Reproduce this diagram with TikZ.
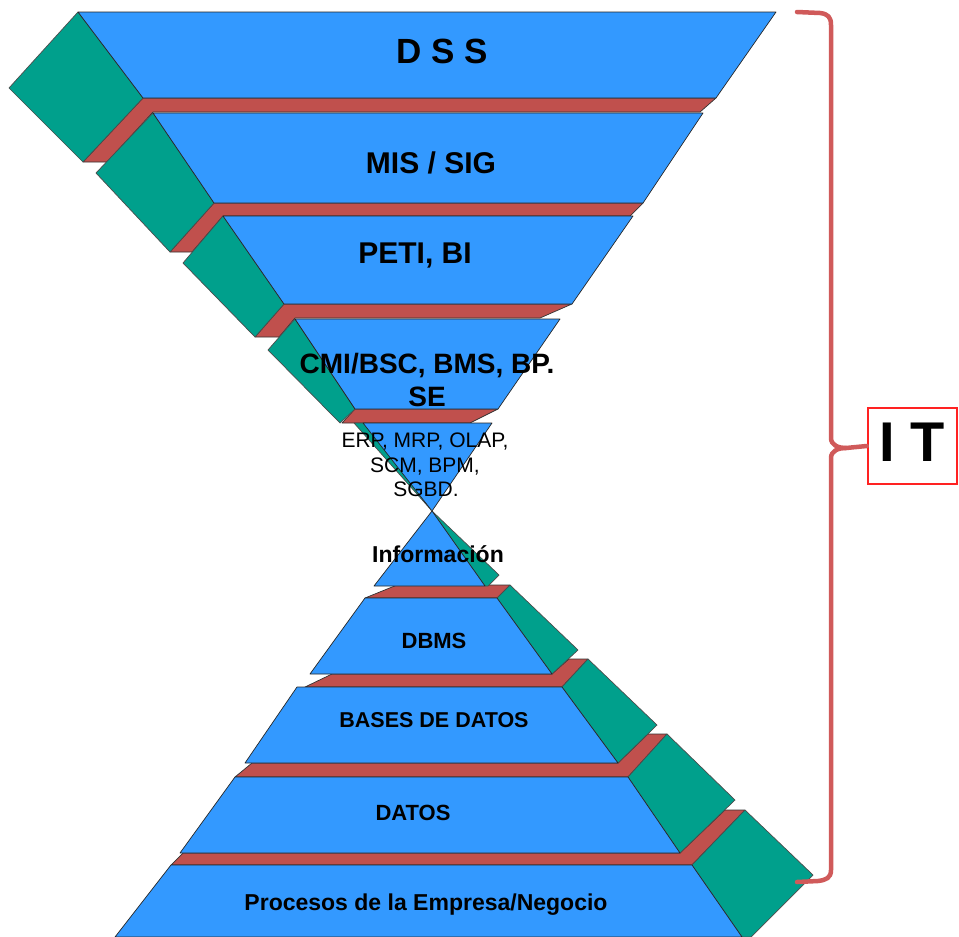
\documentclass[tikz,border=0pt]{standalone}
\usepackage{fontspec}
\setmainfont{Liberation Sans}
\definecolor{lyblue}{RGB}{51,153,255}
\definecolor{lygreen}{RGB}{0,160,140}
\definecolor{lyred}{RGB}{192,80,77}
\definecolor{brk}{RGB}{208,90,90}
\definecolor{itred}{RGB}{255,34,34}
\begin{document}
\begin{tikzpicture}[x=1pt,y=-1pt,
  layer/.style={fill=lyblue, draw=black!85, line width=0.7pt, line join=round},
  side/.style={fill=lygreen, draw=black!70, line width=0.7pt, line join=round},
  band/.style={fill=lyred, draw=black!80, line width=0.7pt, line join=round},
  lbl/.style={inner sep=0pt, anchor=base, text=black},
  brace/.style={draw=brk, line width=4.5pt, line cap=round, line join=round},
  itbox/.style={draw=itred, line width=2.5pt, minimum width=89pt, minimum height=76pt, inner sep=0pt, text depth=8pt, font=\fontsize{56}{60}\selectfont\bfseries}
]
\useasboundingbox (0,0) rectangle (959,937);

% ---------- upper (inverted) funnel ----------
% red bands
\path[band] (83,162) -- (143,98) -- (716,98) -- (700,112) -- (153,112) -- (107,162) -- cycle;
\path[band] (170,252) -- (214,203) -- (643,203) -- (630,216) -- (223,216) -- (192,252) -- cycle;
\path[band] (255,337) -- (284,304) -- (572,304) -- (540,318) -- (295,318) -- (279,337) -- cycle;
\path[band] (355,409) -- (498,409) -- (470,423) -- (342,423) -- cycle;
% green sides
\path[side] (78,12) -- (143,98) -- (83,162) -- (9,88) -- cycle;
\path[side] (153,113) -- (214,203) -- (170,252) -- (96,173) -- cycle;
\path[side] (223,216) -- (284,304) -- (255,337) -- (183,263) -- cycle;
\path[side] (295,319) -- (355,409) -- (340,423) -- (268,350) -- cycle;
\path[side] (354,423) -- (366,423) -- (432,511) -- cycle;
% blue layers
\path[layer] (78,12) -- (776,12) -- (716,98) -- (143,98) -- cycle;
\path[layer] (153,113) -- (703,113) -- (643,203) -- (214,203) -- cycle;
\path[layer] (223,216) -- (633,216) -- (572,304) -- (284,304) -- cycle;
\path[layer] (295,319) -- (560,319) -- (498,409) -- (355,409) -- cycle;
\path[layer] (363,423) -- (492,423) -- (432,511) -- cycle;

% ---------- lower pyramid ----------
% red bands
\path[band] (365,598) -- (397,585) -- (510,585) -- (497,598) -- cycle;
\path[band] (305,687) -- (332,674) -- (552,674) -- (569,659) -- (588,659) -- (562,687) -- cycle;
\path[band] (235,777) -- (252,763) -- (618,763) -- (648,734) -- (667,734) -- (628,777) -- cycle;
\path[band] (171,865) -- (183,853) -- (680,853) -- (725,810) -- (745,810) -- (692,865) -- cycle;
% green sides
\path[side] (431,510) -- (499,575) -- (488,586) -- (485,586) -- cycle;
\path[side] (497,598) -- (510,585) -- (578,650) -- (552,674) -- cycle;
\path[side] (562,687) -- (588,659) -- (657,725) -- (618,763) -- cycle;
\path[side] (628,777) -- (667,734) -- (735,800) -- (680,853) -- cycle;
\path[side] (692,865) -- (745,810) -- (813,875) -- (751,937) -- (742,937) -- cycle;
% blue layers
\path[layer] (432,511) -- (485,586) -- (374,586) -- cycle;
\path[layer] (365,598) -- (497,598) -- (552,674) -- (310,674) -- cycle;
\path[layer] (297,687) -- (562,687) -- (618,763) -- (245,763) -- cycle;
\path[layer] (235,777) -- (628,777) -- (680,853) -- (180,853) -- cycle;
\path[layer] (171,865) -- (692,865) -- (742,937) -- (115,937) -- cycle;

% ---------- labels ----------
\node[lbl, font=\fontsize{35}{40}\selectfont\bfseries] (dss) at (442,63) {D S S};
\node[lbl, font=\fontsize{30}{34}\selectfont\bfseries] (mis) at (431,173) {MIS / SIG};
\node[lbl, font=\fontsize{30}{34}\selectfont\bfseries] (peti) at (415,263) {PETI, BI};
\node[lbl, font=\fontsize{28}{32}\selectfont\bfseries] (cmia) at (427,373) {CMI/BSC, BMS, BP.};
\node[lbl, font=\fontsize{28}{32}\selectfont\bfseries] (cmib) at (427,406) {SE};
\node[lbl, font=\fontsize{21}{24}\selectfont] (erpa) at (425,447) {ERP, MRP, OLAP,};
\node[lbl, font=\fontsize{21}{24}\selectfont] (erpb) at (425,472) {SCM, BPM,};
\node[lbl, font=\fontsize{21}{24}\selectfont] (erpc) at (426,496) {SGBD.};
\node[lbl, font=\fontsize{23}{26}\selectfont\bfseries] (info) at (438,562) {Información};
\node[lbl, font=\fontsize{22}{26}\selectfont\bfseries] (dbms) at (434,648) {DBMS};
\node[lbl, font=\fontsize{21.5}{25}\selectfont\bfseries] (bases) at (434,727) {BASES DE DATOS};
\node[lbl, font=\fontsize{22}{26}\selectfont\bfseries] (datos) at (413,820) {DATOS};
\node[lbl, font=\fontsize{23}{26}\selectfont\bfseries] (proc) at (426,910) {Procesos de la Empresa/Negocio};

% ---------- IT brace ----------
\node[itbox] (it) at (912.5,446) {I T};
\coordinate (btop) at (797,12);
\coordinate (bbot) at (797,882);
\coordinate (tip) at (846,448);
\draw[brace] (btop) -- (820,13) .. controls (828,14) and (831,17) .. (831,25) -- (831,438) .. controls (831,445) and (838,448) .. (tip) -- (it.west);
\draw[brace] (tip) .. controls (838,448) and (831,451) .. (831,458) -- (831,870) .. controls (831,878) and (826,880) .. (818,881) -- (bbot);
\end{tikzpicture}
\end{document}
